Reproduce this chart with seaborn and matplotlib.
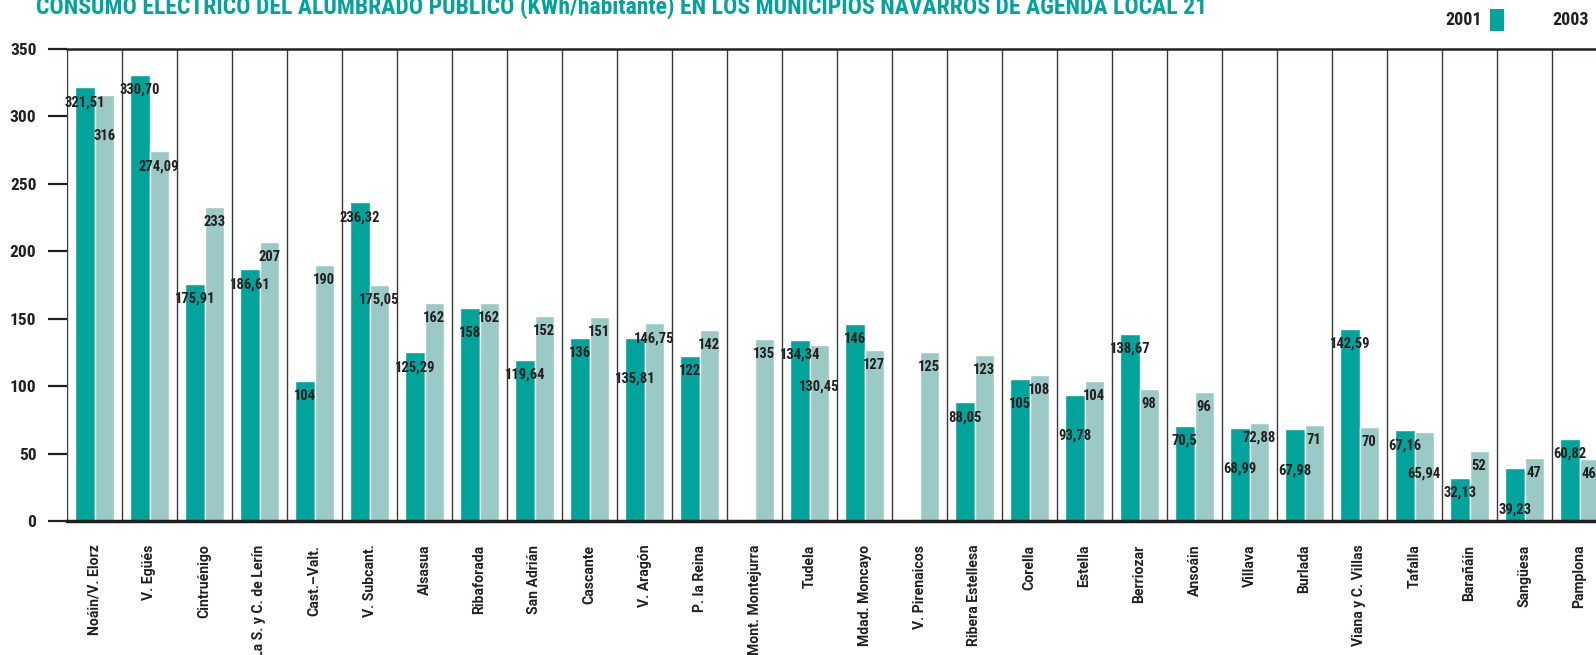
import numpy as np
import pandas as pd
import seaborn as sns
import matplotlib
matplotlib.use("Agg")
import matplotlib.pyplot as plt
from matplotlib.patches import Rectangle

categories = ["Noáin/V. Elorz", "V. Egüés", "Cintruénigo", "La S. y C. de Lerín", "Cast.–Valt.",
              "V. Subcant.", "Alsasua", "Ribaforada", "San Adrián", "Cascante", "V. Aragón",
              "P. la Reina", "Mont. Montejurra", "Tudela", "Mdad. Moncayo", "V. Pirenaicos",
              "Ribera Estellesa", "Corella", "Estella", "Berriozar", "Ansoáin", "Villava",
              "Burlada", "Viana y C. Villas", "Tafalla", "Barañáin", "Sangüesa", "Pamplona"]

values_2001 = [321.51, 330.70, 175.91, 186.61, 104, 236.32, 125.29, 158, 119.64, 136, 135.81,
               122, np.nan, 134.34, 146, np.nan, 88.05, 105, 93.78, 138.67, 70.5, 68.99,
               67.98, 142.59, 67.16, 32.13, 39.23, 60.82]
values_2003 = [316, 274.09, 233, 207, 190, 175.05, 162, 162, 152, 151, 146.75, 142, 135,
               130.45, 127, 125, 123, 108, 104, 98, 96, 72.88, 71, 70, 65.94, 52, 47, 46]

labels_2001 = ["321,51", "330,70", "175,91", "186,61", "104", "236,32", "125,29", "158",
               "119,64", "136", "135,81", "122", "", "134,34", "146", "", "88,05", "105",
               "93,78", "138,67", "70,5", "68,99", "67,98", "142,59", "67,16", "32,13",
               "39,23", "60,82"]
labels_2003 = ["316", "274,09", "233", "207", "190", "175,05", "162", "162", "152", "151",
               "146,75", "142", "135", "130,45", "127", "125", "123", "108", "104", "98",
               "96", "72,88", "71", "70", "65,94", "52", "47", "46"]

years = ["2001", "2003"]
yticks = [0, 50, 100, 150, 200, 250, 300, 350]
title = "CONSUMO ELÉCTRICO DEL ALUMBRADO PÚBLICO (KWh/habitante) EN LOS MUNICIPIOS NAVARROS DE AGENDA LOCAL 21"

TEAL = "#00A49B"
LIGHT = "#9BCAC6"
DARK = "#231F20"

sns.set_theme(style="white")
NARROW = ["Roboto Condensed", "Liberation Sans Narrow", "DejaVu Sans"]
plt.rcParams["font.family"] = NARROW
plt.rcParams["font.stretch"] = "condensed"

df = pd.DataFrame({
    "municipio": categories * 2,
    "year": ["2001"] * len(categories) + ["2003"] * len(categories),
    "value": values_2001 + values_2003,
})

W, H = 1596, 655
fig = plt.figure(figsize=(W / 100, H / 100), dpi=100)
left_px, right_px = 67, 1607
top_px, bottom_px = 49, 521
ax = fig.add_axes([left_px / W, (H - bottom_px) / H, (right_px - left_px) / W, (bottom_px - top_px) / H])

sns.barplot(data=df, x="municipio", y="value", hue="year", hue_order=years,
            order=categories, palette=[TEAL, LIGHT], width=0.7, errorbar=None,
            saturation=1, ax=ax, legend=False)

ax.set_xlim(-0.5, len(categories) - 0.5)
ax.set_ylim(0, 350)
ax.set_xlabel("")
ax.set_ylabel("")

# value labels: a bit below each bar top; when the pair is close in height,
# the lower label is pushed further down so the two do not collide
px_per_unit = (bottom_px - top_px) / 350.0
bars_by_idx = {}
for k, cont in enumerate(ax.containers):
    for bar in cont:
        h = bar.get_height()
        if h is None or np.isnan(h) or h <= 0:
            continue
        cx = bar.get_x() + bar.get_width() / 2
        bars_by_idx.setdefault(int(round(cx)), {})[k] = (cx, h)

label_sets = [labels_2001, labels_2003]
for idx, d in bars_by_idx.items():
    for k, (cx, h) in d.items():
        txt = label_sets[k][idx]
        if not txt:
            continue
        off = 15
        other = d.get(1 - k)
        if other is not None:
            oh = other[1]
            if abs(oh - h) * px_per_unit < 16 and h < oh:
                otxt = label_sets[1 - k][idx]
                off += 26 if max(len(txt), len(otxt)) > 3 else 10
        ax.annotate(txt, (cx, h), xytext=(0, -off), textcoords="offset pixels",
                    ha="center", va="center", fontsize=10.5, fontweight="bold",
                    color=DARK, zorder=5)

# vertical category separators
bounds = np.arange(-0.5, len(categories), 1.0)
ax.set_xticks(bounds, minor=True)
ax.grid(False)
for b in bounds:
    ax.axvline(b, color="#3a3a3a", lw=1.0, zorder=0)
ax.tick_params(axis="x", which="minor", length=14, width=1.0, color="#3a3a3a", direction="out")
ax.tick_params(axis="x", which="major", length=0, pad=17)
ax.set_xticks(range(len(categories)))
ax.set_xticklabels(categories, rotation=90, ha="center", va="top",
                   fontsize=10.1, fontweight="bold", color=DARK,
                   family=["Roboto", "DejaVu Sans"], fontstretch="normal")

ax.set_yticks(yticks)
ax.set_yticklabels([str(t) for t in yticks], fontsize=12.5, fontweight="bold", color=DARK)
ax.tick_params(axis="y", which="major", length=14, width=1.6, color=DARK, direction="out", pad=8, left=True)

ax.spines["right"].set_visible(False)
ax.spines["left"].set_visible(False)
ax.spines["top"].set_linewidth(1.8)
ax.spines["top"].set_color(DARK)
ax.spines["bottom"].set_linewidth(2.5)
ax.spines["bottom"].set_color(DARK)

# title (partly cut at top in reference)
fig.text(36 / W, 1 - 14 / H, title, ha="left", va="baseline", fontsize=17,
         fontweight="bold", color=TEAL)

# legend
fig.text(1482 / W, 1 - 20 / H, years[0], ha="right", va="center", fontsize=13,
         fontweight="bold", color=DARK)
fig.patches.append(Rectangle((1490 / W, 1 - 31 / H), 14 / W, 22 / H,
                             transform=fig.transFigure, facecolor=TEAL, edgecolor="none"))
fig.text(1589 / W, 1 - 20 / H, years[1], ha="right", va="center", fontsize=13,
         fontweight="bold", color=DARK)
fig.patches.append(Rectangle((1597 / W, 1 - 31 / H), 14 / W, 22 / H,
                             transform=fig.transFigure, facecolor=LIGHT, edgecolor="none"))

fig.savefig("out.png", dpi=100)
